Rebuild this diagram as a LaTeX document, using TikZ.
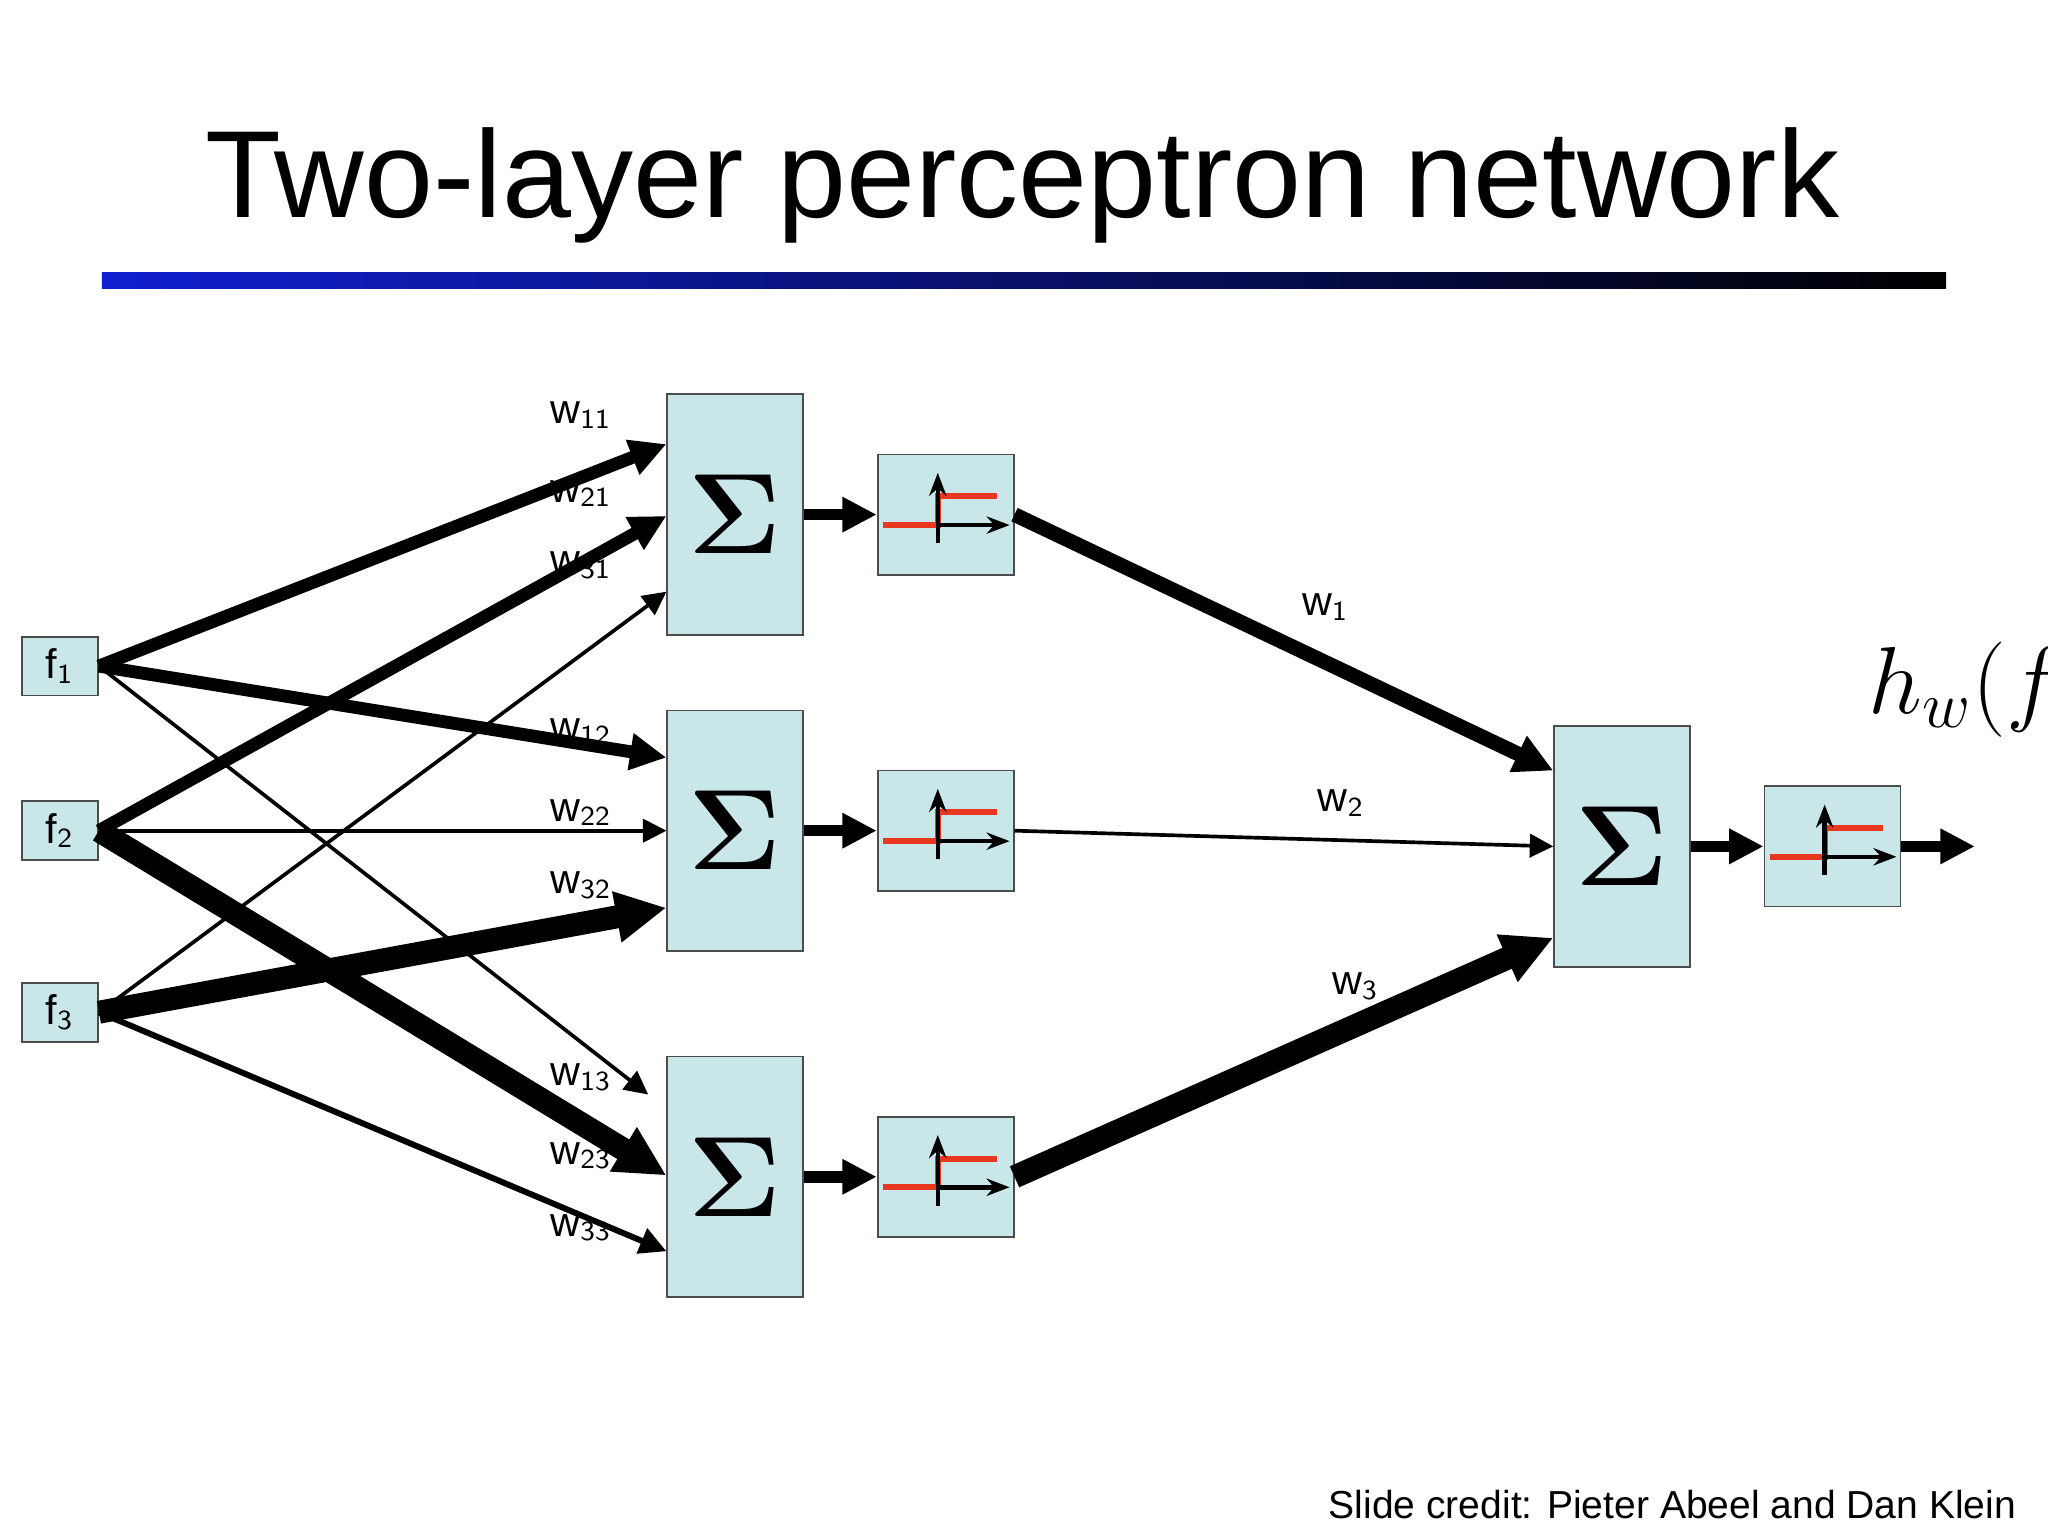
\documentclass[tikz,border=0pt]{standalone}
\usepackage{amsmath}
\usepackage{fontspec}
\setmainfont{Liberation Sans}
\usetikzlibrary{arrows.meta}
\definecolor{boxcyan}{HTML}{C9E6E8}
\definecolor{stepred}{HTML}{E8371E}
\definecolor{barblue}{HTML}{1020D0}
\newcommand{\wlab}[1]{w$_{\mathsf{#1}}$}
\begin{document}
\begin{tikzpicture}[x=0.01cm,y=-0.01cm,
    box/.style={draw=black!70, fill=boxcyan, inner sep=0pt},
    feat/.style={box, minimum width=0.58cm, minimum height=0.45cm, font=\fontsize{9}{10}\selectfont},
    sumbox/.style={box, minimum width=1.04cm, minimum height=1.84cm, font=\fontsize{28}{30}\selectfont},
    stepbox/.style={box, minimum width=1.04cm, minimum height=0.92cm},
    wire/.style={-{Triangle[length=#1*1.4pt+4pt,width=#1*1.3pt+4pt]}, line width=#1 pt},
    wire/.default=0.8,
    wl/.style={font=\fontsize{9}{10}\selectfont}]
  \useasboundingbox (0,0) rectangle (1568,1176);
  \clip (0,0) rectangle (1568,1176);
  % title and bar
  \node[font=\fontsize{27}{30}\selectfont] (title) at (783,142) {Two-layer perceptron network};
  \shade[left color=barblue, right color=black] (78,209) rectangle (1490,221);
  % features
  \node[feat] (f1) at (46,510) {f$_{\mathsf 1}$};
  \node[feat] (f2) at (46,636) {f$_{\mathsf 2}$};
  \node[feat] (f3) at (46,775) {f$_{\mathsf 3}$};
  % hidden units
  \foreach \i/\y in {1/394, 2/636, 3/901} {
    \node[sumbox] (s\i) at (563,\y) {$\boldsymbol\Sigma$};
    \node[stepbox] (t\i) at (724,\y) {};
    \draw[wire=2.5] (s\i) -- (t\i);
  }
  \node[sumbox] (so) at (1242,648) {$\boldsymbol\Sigma$};
  \node[stepbox] (to) at (1403,648) {};
  \coordinate (out) at (1512,648);
  \draw[wire=2.5] (so) -- (to);
  \draw[wire=2.5] (to) -- (out);
  % step icons
  \foreach \n in {t1,t2,t3,to} {
    \draw[stepred, line width=1.3pt] ([shift={(-48,8)}]\n.center) -- ++(42,0) -- ++(0,-22) -- ++(45,0);
    \draw[-{Stealth[length=5pt]}, line width=1pt] ([shift={(-6,22)}]\n.center) -- ([shift={(-6,-32)}]\n.center);
    \draw[-{Stealth[length=5pt]}, line width=1pt] ([shift={(-6,8)}]\n.center) -- ([shift={(49,8)}]\n.center);
  }
  % first layer weights
  \draw[wire=2.8] (f1.east) -- ([shift={(0,-54)}]s1.west);
  \draw[wire=2.8] (f1.east) -- ([shift={(0,-56)}]s2.west);
  \draw[wire=0.8] (f1.east) -- ([shift={(-14,-63)}]s3.west);
  \draw[wire=2.8] (f2.east) -- ([shift={(0,1)}]s1.west);
  \draw[wire=0.8] (f2.east) -- (s2.west);
  \draw[wire=5] (f2.east) -- ([shift={(0,-1)}]s3.west);
  \draw[wire=0.8] (f3.east) -- ([shift={(0,59)}]s1.west);
  \draw[wire=5] (f3.east) -- ([shift={(0,59)}]s2.west);
  \draw[wire=1.3] (f3.east) -- ([shift={(0,57)}]s3.west);
  % second layer weights
  \draw[wire=3.2] (t1.east) -- ([shift={(0,-58)}]so.west);
  \draw[wire=0.8] (t2.east) -- (so.west);
  \draw[wire=5] (t3.east) -- ([shift={(0,70)}]so.west);
  % labels
  \foreach \lab/\y in {11/318, 21/378, 31/433, 12/560, 22/622, 32/678, 13/825, 23/885, 33/940}
    \node[wl] (w\lab) at (445,\y) {\wlab{\lab}};
  \node[wl] (w1) at (1015,465) {\wlab{1}};
  \node[wl] (w2) at (1027,615) {\wlab{2}};
  \node[wl] (w3) at (1038,755) {\wlab{3}};
  \node[anchor=west, font=\fontsize{20}{22}\selectfont] (hw) at (1418,528) {$h_w(f($};
  \node[anchor=east, font=\fontsize{8.5}{10}\selectfont] (credit) at (1556,1152) {Slide credit: Pieter Abeel and Dan Klein};
\end{tikzpicture}
\end{document}
